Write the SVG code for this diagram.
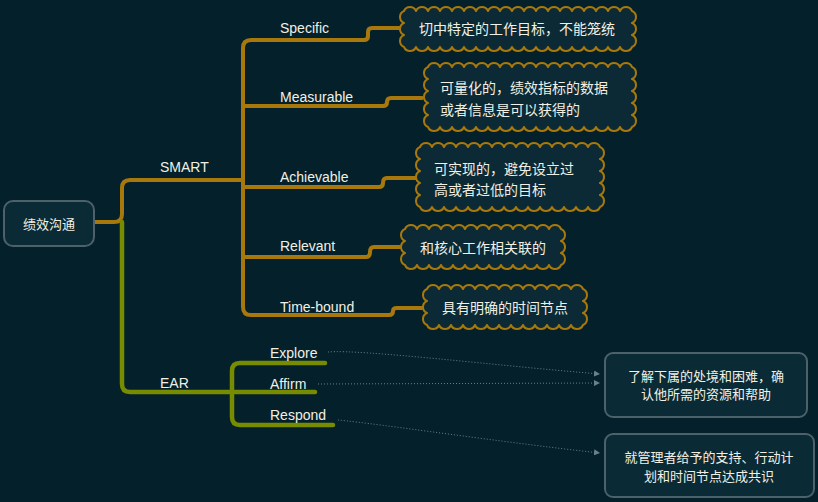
<svg xmlns="http://www.w3.org/2000/svg" width="818" height="502" viewBox="0 0 818 502">
<style>
.lbl{font-family:"Liberation Sans","Noto Sans CJK SC",sans-serif;font-size:14px;fill:#f2f0e4}
.cn{font-family:"Noto Sans CJK SC","Liberation Sans",sans-serif;font-size:14px;fill:#f2f0e4}
.bx{font-family:"Noto Sans CJK SC","Liberation Sans",sans-serif;font-size:13px;fill:#f2f0e4}
.gold{fill:none;stroke:#a8780c;stroke-width:4;stroke-linecap:round;stroke-linejoin:round}
.green{fill:none;stroke:#778c00;stroke-width:4.5;stroke-linecap:round;stroke-linejoin:round}
.cloud{fill:#0b2a35;stroke:#a8780c;stroke-width:2;stroke-linejoin:round}
.box{fill:#0a2a35;stroke:#4c6169;stroke-width:2}
.dot{fill:none;stroke:#6b818a;stroke-width:1;stroke-dasharray:1 2}
</style>
<defs>
<marker id="arr" viewBox="0 0 6 6" refX="6" refY="3" markerWidth="6" markerHeight="6" orient="auto" markerUnits="userSpaceOnUse">
<path d="M0,0 L6,3 L0,6 z" fill="#6b818a"/>
</marker>
</defs>
<rect width="818" height="502" fill="#04202a"/>
<g id="connectors">
<path class="gold" d="M94,222 H114 Q122,222 122,214 V188 Q122,180 130,180 H243"/>
<path class="gold" d="M243,180 V48 Q243,40 251,40 H364 Q368,40 368,36 V32 Q368,28 372,28 H400"/>
<path class="gold" d="M243,106 H383 Q387,106 387,102 Q387,98 391,98 H422"/>
<path class="gold" d="M243,187 H379 Q383,187 383,183 Q383,178 387,178 H420"/>
<path class="gold" d="M243,257 H366 Q370,257 370,252 Q370,247 374,247 H402"/>
<path class="gold" d="M243,180 V307 Q243,315 251,315 H389 Q393,315 393,311 Q393,308 397,308 H425"/>
<path class="green" d="M122,222 V384 Q122,392 130,392 H232"/>
<path class="green" d="M232,392 V371 Q232,363 240,363 H325"/>
<path class="green" d="M232,392 H315"/>
<path class="green" d="M232,392 V417 Q232,425 240,425 H333"/>
<path class="dot" d="M328,352 C360,349 500,366 600,374" marker-end="url(#arr)"/>
<path class="dot" d="M318,384 L600,383" marker-end="url(#arr)"/>
<path class="dot" d="M338,420 C380,424 500,442 600,453" marker-end="url(#arr)"/>
</g>
<g id="root">
<rect class="box" x="4" y="201" width="90" height="45" rx="9"/>
<text class="bx" x="49" y="229" text-anchor="middle">绩效沟通</text>
</g>
<g id="smart"><text class="lbl" x="160" y="172">SMART</text></g>
<g id="specific"><text class="lbl" x="280" y="33">Specific</text></g>
<g id="measurable"><text class="lbl" x="280" y="102">Measurable</text></g>
<g id="achievable"><text class="lbl" x="280" y="182">Achievable</text></g>
<g id="relevant"><text class="lbl" x="280" y="251">Relevant</text></g>
<g id="timebound"><text class="lbl" x="280" y="312">Time-bound</text></g>
<g id="ear"><text class="lbl" x="160" y="388">EAR</text></g>
<g id="explore"><text class="lbl" x="270" y="358">Explore</text></g>
<g id="affirm"><text class="lbl" x="270" y="389">Affirm</text></g>
<g id="respond"><text class="lbl" x="270" y="420">Respond</text></g>
<g id="cloud-specific">
<path class="cloud" d="M404,11 a6.5 6.5 0 0 1 12 0 a6.5 6.5 0 0 1 12 0 a6.5 6.5 0 0 1 12 0 a6.5 6.5 0 0 1 12 0 a6.5 6.5 0 0 1 12 0 a6.5 6.5 0 0 1 12 0 a6.5 6.5 0 0 1 12 0 a6.5 6.5 0 0 1 12 0 a6.5 6.5 0 0 1 12 0 a6.5 6.5 0 0 1 12 0 a6.5 6.5 0 0 1 12 0 a6.5 6.5 0 0 1 12 0 a6.5 6.5 0 0 1 12 0 a6.5 6.5 0 0 1 12 0 a6.5 6.5 0 0 1 12 0 a6.5 6.5 0 0 1 12 0 a6.5 6.5 0 0 1 12 0 a6.5 6.5 0 0 1 12 0 a6.5 6.5 0 0 1 12 0 a6.5 6.5 0 0 1 0 12 a6.5 6.5 0 0 1 0 12 a6.5 6.5 0 0 1 0 12 a6.5 6.5 0 0 1 -12 0 a6.5 6.5 0 0 1 -12 0 a6.5 6.5 0 0 1 -12 0 a6.5 6.5 0 0 1 -12 0 a6.5 6.5 0 0 1 -12 0 a6.5 6.5 0 0 1 -12 0 a6.5 6.5 0 0 1 -12 0 a6.5 6.5 0 0 1 -12 0 a6.5 6.5 0 0 1 -12 0 a6.5 6.5 0 0 1 -12 0 a6.5 6.5 0 0 1 -12 0 a6.5 6.5 0 0 1 -12 0 a6.5 6.5 0 0 1 -12 0 a6.5 6.5 0 0 1 -12 0 a6.5 6.5 0 0 1 -12 0 a6.5 6.5 0 0 1 -12 0 a6.5 6.5 0 0 1 -12 0 a6.5 6.5 0 0 1 -12 0 a6.5 6.5 0 0 1 -12 0 a6.5 6.5 0 0 1 0 -12 a6.5 6.5 0 0 1 0 -12 a6.5 6.5 0 0 1 0 -12 z"/>
<text class="cn" x="517" y="34" text-anchor="middle">切中特定的工作目标，不能笼统</text>
</g>
<g id="cloud-measurable">
<path class="cloud" d="M428,67 a6.5 6.5 0 0 1 12 0 a6.5 6.5 0 0 1 12 0 a6.5 6.5 0 0 1 12 0 a6.5 6.5 0 0 1 12 0 a6.5 6.5 0 0 1 12 0 a6.5 6.5 0 0 1 12 0 a6.5 6.5 0 0 1 12 0 a6.5 6.5 0 0 1 12 0 a6.5 6.5 0 0 1 12 0 a6.5 6.5 0 0 1 12 0 a6.5 6.5 0 0 1 12 0 a6.5 6.5 0 0 1 12 0 a6.5 6.5 0 0 1 12 0 a6.5 6.5 0 0 1 12 0 a6.5 6.5 0 0 1 12 0 a6.5 6.5 0 0 1 12 0 a6.5 6.5 0 0 1 12 0 a6.5 6.5 0 0 1 0 12 a6.5 6.5 0 0 1 0 12 a6.5 6.5 0 0 1 0 12 a6.5 6.5 0 0 1 0 12 a6.5 6.5 0 0 1 0 12 a6.5 6.5 0 0 1 -12 0 a6.5 6.5 0 0 1 -12 0 a6.5 6.5 0 0 1 -12 0 a6.5 6.5 0 0 1 -12 0 a6.5 6.5 0 0 1 -12 0 a6.5 6.5 0 0 1 -12 0 a6.5 6.5 0 0 1 -12 0 a6.5 6.5 0 0 1 -12 0 a6.5 6.5 0 0 1 -12 0 a6.5 6.5 0 0 1 -12 0 a6.5 6.5 0 0 1 -12 0 a6.5 6.5 0 0 1 -12 0 a6.5 6.5 0 0 1 -12 0 a6.5 6.5 0 0 1 -12 0 a6.5 6.5 0 0 1 -12 0 a6.5 6.5 0 0 1 -12 0 a6.5 6.5 0 0 1 -12 0 a6.5 6.5 0 0 1 0 -12 a6.5 6.5 0 0 1 0 -12 a6.5 6.5 0 0 1 0 -12 a6.5 6.5 0 0 1 0 -12 a6.5 6.5 0 0 1 0 -12 z"/>
<text class="cn" x="440" y="93">可量化的，绩效指标的数据</text>
<text class="cn" x="440" y="115">或者信息是可以获得的</text>
</g>
<g id="cloud-achievable">
<path class="cloud" d="M420,147 a6.5 6.5 0 0 1 12 0 a6.5 6.5 0 0 1 12 0 a6.5 6.5 0 0 1 12 0 a6.5 6.5 0 0 1 12 0 a6.5 6.5 0 0 1 12 0 a6.5 6.5 0 0 1 12 0 a6.5 6.5 0 0 1 12 0 a6.5 6.5 0 0 1 12 0 a6.5 6.5 0 0 1 12 0 a6.5 6.5 0 0 1 12 0 a6.5 6.5 0 0 1 12 0 a6.5 6.5 0 0 1 12 0 a6.5 6.5 0 0 1 12 0 a6.5 6.5 0 0 1 12 0 a6.5 6.5 0 0 1 12 0 a6.5 6.5 0 0 1 0 12 a6.5 6.5 0 0 1 0 12 a6.5 6.5 0 0 1 0 12 a6.5 6.5 0 0 1 0 12 a6.5 6.5 0 0 1 0 12 a6.5 6.5 0 0 1 -12 0 a6.5 6.5 0 0 1 -12 0 a6.5 6.5 0 0 1 -12 0 a6.5 6.5 0 0 1 -12 0 a6.5 6.5 0 0 1 -12 0 a6.5 6.5 0 0 1 -12 0 a6.5 6.5 0 0 1 -12 0 a6.5 6.5 0 0 1 -12 0 a6.5 6.5 0 0 1 -12 0 a6.5 6.5 0 0 1 -12 0 a6.5 6.5 0 0 1 -12 0 a6.5 6.5 0 0 1 -12 0 a6.5 6.5 0 0 1 -12 0 a6.5 6.5 0 0 1 -12 0 a6.5 6.5 0 0 1 -12 0 a6.5 6.5 0 0 1 0 -12 a6.5 6.5 0 0 1 0 -12 a6.5 6.5 0 0 1 0 -12 a6.5 6.5 0 0 1 0 -12 a6.5 6.5 0 0 1 0 -12 z"/>
<text class="cn" x="434" y="174">可实现的，避免设立过</text>
<text class="cn" x="434" y="195">高或者过低的目标</text>
</g>
<g id="cloud-relevant">
<path class="cloud" d="M405,229 a6.5 6.5 0 0 1 12 0 a6.5 6.5 0 0 1 12 0 a6.5 6.5 0 0 1 12 0 a6.5 6.5 0 0 1 12 0 a6.5 6.5 0 0 1 12 0 a6.5 6.5 0 0 1 12 0 a6.5 6.5 0 0 1 12 0 a6.5 6.5 0 0 1 12 0 a6.5 6.5 0 0 1 12 0 a6.5 6.5 0 0 1 12 0 a6.5 6.5 0 0 1 12 0 a6.5 6.5 0 0 1 12 0 a6.5 6.5 0 0 1 12 0 a6.5 6.5 0 0 1 0 12 a6.5 6.5 0 0 1 0 12 a6.5 6.5 0 0 1 0 12 a6.5 6.5 0 0 1 -12 0 a6.5 6.5 0 0 1 -12 0 a6.5 6.5 0 0 1 -12 0 a6.5 6.5 0 0 1 -12 0 a6.5 6.5 0 0 1 -12 0 a6.5 6.5 0 0 1 -12 0 a6.5 6.5 0 0 1 -12 0 a6.5 6.5 0 0 1 -12 0 a6.5 6.5 0 0 1 -12 0 a6.5 6.5 0 0 1 -12 0 a6.5 6.5 0 0 1 -12 0 a6.5 6.5 0 0 1 -12 0 a6.5 6.5 0 0 1 -12 0 a6.5 6.5 0 0 1 0 -12 a6.5 6.5 0 0 1 0 -12 a6.5 6.5 0 0 1 0 -12 z"/>
<text class="cn" x="483" y="253" text-anchor="middle">和核心工作相关联的</text>
</g>
<g id="cloud-timebound">
<path class="cloud" d="M427,289 a6.5 6.5 0 0 1 12 0 a6.5 6.5 0 0 1 12 0 a6.5 6.5 0 0 1 12 0 a6.5 6.5 0 0 1 12 0 a6.5 6.5 0 0 1 12 0 a6.5 6.5 0 0 1 12 0 a6.5 6.5 0 0 1 12 0 a6.5 6.5 0 0 1 12 0 a6.5 6.5 0 0 1 12 0 a6.5 6.5 0 0 1 12 0 a6.5 6.5 0 0 1 12 0 a6.5 6.5 0 0 1 12 0 a6.5 6.5 0 0 1 12 0 a6.5 6.5 0 0 1 0 12 a6.5 6.5 0 0 1 0 12 a6.5 6.5 0 0 1 0 12 a6.5 6.5 0 0 1 -12 0 a6.5 6.5 0 0 1 -12 0 a6.5 6.5 0 0 1 -12 0 a6.5 6.5 0 0 1 -12 0 a6.5 6.5 0 0 1 -12 0 a6.5 6.5 0 0 1 -12 0 a6.5 6.5 0 0 1 -12 0 a6.5 6.5 0 0 1 -12 0 a6.5 6.5 0 0 1 -12 0 a6.5 6.5 0 0 1 -12 0 a6.5 6.5 0 0 1 -12 0 a6.5 6.5 0 0 1 -12 0 a6.5 6.5 0 0 1 -12 0 a6.5 6.5 0 0 1 0 -12 a6.5 6.5 0 0 1 0 -12 a6.5 6.5 0 0 1 0 -12 z"/>
<text class="cn" x="505" y="313" text-anchor="middle">具有明确的时间节点</text>
</g>
<g id="box-explore-affirm">
<rect class="box" x="605" y="353" width="202" height="64" rx="8"/>
<text class="bx" x="706" y="381" text-anchor="middle">了解下属的处境和困难，确</text>
<text class="bx" x="706" y="399" text-anchor="middle">认他所需的资源和帮助</text>
</g>
<g id="box-respond">
<rect class="box" x="605" y="434" width="209" height="63" rx="8"/>
<text class="bx" x="709" y="462" text-anchor="middle">就管理者给予的支持、行动计</text>
<text class="bx" x="709" y="481" text-anchor="middle">划和时间节点达成共识</text>
</g>
</svg>
